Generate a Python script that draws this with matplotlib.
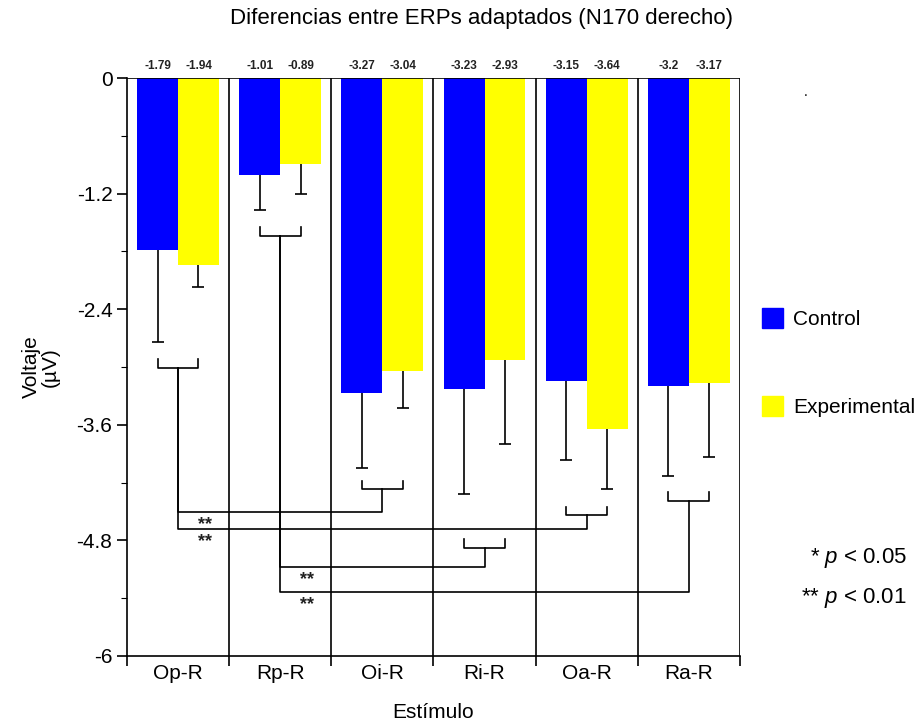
import matplotlib
matplotlib.use("Agg")
import matplotlib.pyplot as plt
import numpy as np
from matplotlib.patches import Patch

plt.rcParams['font.family'] = ['Liberation Sans', 'DejaVu Sans']
plt.rcParams['mathtext.fontset'] = 'custom'
plt.rcParams['mathtext.it'] = 'Liberation Sans:italic'
plt.rcParams['mathtext.rm'] = 'Liberation Sans'

# data
categories = ['Op-R', 'Rp-R', 'Oi-R', 'Ri-R', 'Oa-R', 'Ra-R']
control = [-1.79, -1.01, -3.27, -3.23, -3.15, -3.2]
experimental = [-1.94, -0.89, -3.04, -2.93, -3.64, -3.17]
control_err = [0.95, 0.36, 0.78, 1.09, 0.82, 0.93]
experimental_err = [0.23, 0.31, 0.39, 0.87, 0.63, 0.76]

# significance brackets: top of the bracket under each group
bracket_top = [-2.92, -1.55, -4.18, -4.79, -4.45, -4.30]
# comparisons: (group a, group b, connector level, label)
comparisons = [
    (0, 2, -4.505, '**'),
    (0, 4, -4.68, '**'),
    (1, 3, -5.08, '**'),
    (1, 5, -5.34, '**'),
]

fig = plt.figure(figsize=(9.18, 7.21), dpi=100)
ax = fig.add_axes([0.1383, 0.0902, 0.806 - 0.1383, 0.8918 - 0.0902])

x = np.arange(len(categories))
w = 0.4
ax.bar(x - w / 2, control, w, color='#0000ff', label='Control', zorder=2)
ax.bar(x + w / 2, experimental, w, color='#ffff00', label='Experimental', zorder=2)

# one-sided (downward) error bars
zeros = np.zeros(len(x))
for xs, vals, errs in [(x - w / 2, control, control_err),
                       (x + w / 2, experimental, experimental_err)]:
    eb = ax.errorbar(xs, vals, yerr=[errs, zeros], fmt='none',
                     ecolor='black', elinewidth=1.2, capsize=4, capthick=1.2,
                     zorder=3)
    eb[1][1].set_visible(False)

# value labels above the plot
for i in range(len(x)):
    ax.text(x[i] - w / 2, 0.06, str(control[i]), ha='center', va='bottom',
            fontsize=8.5, fontweight='bold', color='#222222')
    ax.text(x[i] + w / 2, 0.06, str(experimental[i]), ha='center', va='bottom',
            fontsize=8.5, fontweight='bold', color='#222222')

# group separators and zero line
for b in np.arange(0.5, len(x), 1.0):
    ax.axvline(b, color='black', lw=1.2, zorder=1)
ax.axhline(0, color='black', lw=1.2, zorder=4)

# brackets
depth = 0.09
for i in range(len(x)):
    yt = bracket_top[i]
    ax.plot([x[i] - w / 2, x[i] - w / 2, x[i] + w / 2, x[i] + w / 2],
            [yt, yt - depth, yt - depth, yt], color='black', lw=1.2, zorder=3)

for a, b, level, lab in comparisons:
    ax.plot([x[a], x[a], x[b], x[b]],
            [bracket_top[a] - depth, level, level, bracket_top[b] - depth],
            color='black', lw=1.2, zorder=3)
    ax.text(x[a] + 0.26, level - 0.04, lab, ha='center', va='top',
            fontsize=13, fontweight='bold', color='#222222')

ax.set_xlim(-0.5, len(x) - 0.5)
ax.set_ylim(-6, 0)
ax.set_yticks(np.arange(0, -6.01, -1.2))
ax.set_yticklabels(['0', '-1.2', '-2.4', '-3.6', '-4.8', '-6'])
ax.set_yticks(np.arange(-0.6, -6, -1.2), minor=True)
ax.set_xticks(x)
ax.set_xticklabels(categories)
ax.set_xticks(np.arange(-0.5, len(x), 1.0), minor=True)
ax.tick_params(axis='x', which='major', length=0, labelsize=15, pad=6)
ax.tick_params(axis='x', which='minor', length=7, width=1.2, direction='out')
ax.tick_params(axis='y', which='major', length=7, width=1.2, labelsize=15)
ax.tick_params(axis='y', which='minor', length=4, width=0.8)
ax.spines['top'].set_visible(False)
ax.spines['right'].set_visible(False)
ax.spines['left'].set_linewidth(1.2)
ax.spines['bottom'].set_linewidth(1.2)

ax.set_xlabel('Estímulo', fontsize=15, labelpad=14)
ax.set_ylabel('Voltaje\n(µV)', fontsize=15, labelpad=12, linespacing=1.0)

fig.text(0.525, 0.975, 'Diferencias entre ERPs adaptados (N170 derecho)',
         ha='center', va='center', fontsize=16)

handles = [Patch(color='#0000ff'), Patch(color='#ffff00')]
fig.legend(handles, ['Control', 'Experimental'], loc='upper left',
           bbox_to_anchor=(0.821, 0.584), frameon=False, fontsize=15,
           labelspacing=3.2, handlelength=1.0, handleheight=1.1,
           handletextpad=0.5, borderaxespad=0)

fig.text(0.988, 0.226, '* $p$ < 0.05', ha='right', va='center', fontsize=16)
fig.text(0.988, 0.170, '** $p$ < 0.01', ha='right', va='center', fontsize=16)
fig.text(0.878, 0.872, '.', ha='center', va='center', fontsize=10)

fig.savefig('out.png', dpi=100)
